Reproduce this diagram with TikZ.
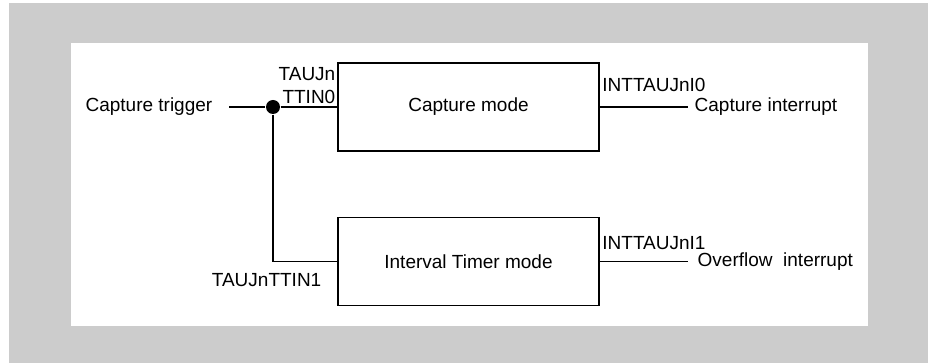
\documentclass[tikz,border=0pt]{standalone}
\usepackage{fontspec}
\setmainfont{Liberation Sans}
\usetikzlibrary{positioning,calc}
\definecolor{panelgray}{HTML}{CCCCCC}

\begin{document}
\begin{tikzpicture}[x=0.5pt,y=-0.5pt,line width=0.7pt,
    font=\fontsize{9.5}{11.5}\selectfont,
    mode/.style={draw,minimum width=130.5pt,minimum height=44pt,inner sep=0pt},
    lbl/.style={inner sep=0pt},
    junction/.style={circle,fill,inner sep=0pt,minimum size=7pt}]
  \useasboundingbox (0,0) rectangle (928,363);
  \fill[panelgray] (9,3) rectangle (928,363);
  \fill[white] (71,43) rectangle (868,326);
  % the two timer modes
  \node[mode] (cap) at (468.5,107) {Capture mode};
  \node[mode] (itv) at (468.5,261.5) {Interval Timer mode};
  % input side
  \node[lbl,inner xsep=8pt,anchor=east] (trig) at (229,107) {Capture trigger};
  \node[junction] (jn) at (273,107) {};
  \draw (trig.east) -- (jn) -- (cap.west);
  \draw (jn) |- (itv.west);
  \node[lbl,anchor=south east,align=right] at (336,104) {TAUJn\\TTIN0};
  \node[lbl,anchor=north east] at (322,273) {TAUJnTTIN1};
  % output side
  \coordinate (out0) at (688,107);
  \coordinate (out1) at (688,261.5);
  \draw (cap.east) -- (out0);
  \draw (itv.east) -- (out1);
  \node[lbl,right=3pt of out0] {Capture interrupt};
  \node[lbl,right=4.5pt of out1] {Overflow\ \ interrupt};
  \node[lbl,anchor=south west] at ($(cap.east)+(2,-15)$) {INTTAUJnI0};
  \node[lbl,anchor=south west] at ($(itv.east)+(2,-11)$) {INTTAUJnI1};
\end{tikzpicture}
\end{document}
